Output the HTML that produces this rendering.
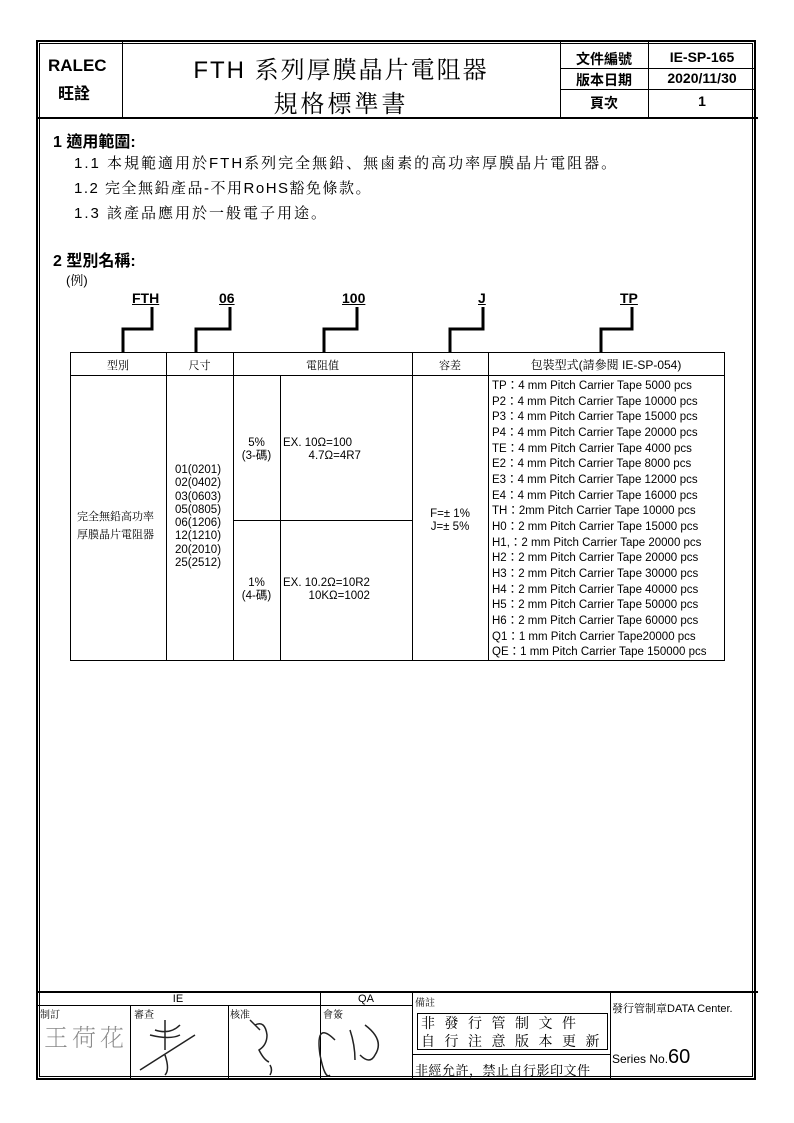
<!DOCTYPE html>
<html><head><meta charset="utf-8"><style>
body{margin:0;background:#fff;}
#p{position:relative;width:794px;height:1123px;overflow:hidden;font-family:"Liberation Sans","Noto Sans CJK TC",sans-serif;color:#000;}
.a{position:absolute;white-space:nowrap;}
.hl{position:absolute;background:#000;height:1px;}
.vl{position:absolute;background:#000;width:1px;}
.c{text-align:center;}
.s{font-family:"Liberation Sans","Noto Serif CJK SC","Noto Sans CJK TC",sans-serif;}
</style></head><body><div id="p">
<div class="a" style="left:36px;top:40px;width:720px;height:1040px;border:2px solid #000;box-sizing:border-box;"></div>
<div class="a" style="left:39px;top:43px;width:714px;height:1034px;border:1px solid #000;box-sizing:border-box;"></div>
<div class="hl" style="left:36px;top:117px;width:722px;height:2px"></div>
<div class="vl" style="left:122px;top:42px;height:76px"></div>
<div class="vl" style="left:560px;top:42px;height:76px"></div>
<div class="vl" style="left:648px;top:42px;height:76px"></div>
<div class="hl" style="left:560px;top:68px;width:196px"></div>
<div class="hl" style="left:560px;top:89px;width:196px"></div>
<div class="a" style="left:48px;top:56px;font-size:17px;font-weight:bold">RALEC</div>
<div class="a" style="left:58px;top:80px;font-size:16px;font-weight:bold">旺詮</div>
<div class="a c s" style="left:122px;top:50px;width:438px;font-size:24px;letter-spacing:2px">FTH 系列厚膜晶片電阻器</div>
<div class="a c s" style="left:122px;top:84px;width:438px;font-size:24px;letter-spacing:3px">規格標準書</div>
<div class="a c" style="left:560px;top:49px;width:88px;font-size:14px;font-weight:bold">文件編號</div>
<div class="a c" style="left:560px;top:70px;width:88px;font-size:14px;font-weight:bold">版本日期</div>
<div class="a c" style="left:560px;top:93px;width:88px;font-size:14px;font-weight:bold">頁次</div>
<div class="a c" style="left:648px;top:49px;width:108px;font-size:14px;font-weight:bold">IE-SP-165</div>
<div class="a c" style="left:648px;top:70px;width:108px;font-size:14px;font-weight:bold">2020/11/30</div>
<div class="a c" style="left:648px;top:93px;width:108px;font-size:14px;font-weight:bold">1</div>
<div class="a" style="left:53px;top:128px;font-size:16px;font-weight:bold">1 適用範圍:</div>
<div class="a s" style="left:74px;top:152px;font-size:15px;letter-spacing:2px">1.1 本規範適用於FTH系列完全無鉛、無鹵素的高功率厚膜晶片電阻器。</div>
<div class="a s" style="left:74px;top:177px;font-size:15px;letter-spacing:1.5px">1.2 完全無鉛產品-不用RoHS豁免條款。</div>
<div class="a s" style="left:74px;top:202px;font-size:15px;letter-spacing:2px">1.3 該產品應用於一般電子用途。</div>
<div class="a" style="left:53px;top:247px;font-size:16px;font-weight:bold">2 型別名稱:</div>
<div class="a s" style="left:66px;top:270px;font-size:13px">(例)</div>
<div class="a" style="left:132px;top:290px;font-size:14px;font-weight:bold;text-decoration:underline">FTH</div>
<div class="a" style="left:219px;top:290px;font-size:14px;font-weight:bold;text-decoration:underline">06</div>
<div class="a" style="left:342px;top:290px;font-size:14px;font-weight:bold;text-decoration:underline">100</div>
<div class="a" style="left:478px;top:290px;font-size:14px;font-weight:bold;text-decoration:underline">J</div>
<div class="a" style="left:620px;top:290px;font-size:14px;font-weight:bold;text-decoration:underline">TP</div>
<svg class="a" style="left:0;top:0" width="794" height="400">
<g fill="none" stroke="#000" stroke-width="3">
<polyline points="152,307 152,329 123,329 123,352"/>
<polyline points="230,307 230,329 196,329 196,352"/>
<polyline points="357,307 357,329 324,329 324,352"/>
<polyline points="483,307 483,329 450,329 450,352"/>
<polyline points="632,307 632,329 601,329 601,352"/>
</g></svg>
<div class="a" style="left:70px;top:352px;width:655px;height:309px;border:1px solid #000;box-sizing:border-box"></div>
<div class="hl" style="left:70px;top:375px;width:655px"></div>
<div class="vl" style="left:166px;top:352px;height:309px"></div>
<div class="vl" style="left:233px;top:352px;height:309px"></div>
<div class="vl" style="left:280px;top:375px;height:286px"></div>
<div class="vl" style="left:412px;top:352px;height:309px"></div>
<div class="vl" style="left:488px;top:352px;height:309px"></div>
<div class="hl" style="left:233px;top:520px;width:179px"></div>
<div class="a c s" style="left:70px;top:357px;width:96px;font-size:11px">型別</div>
<div class="a c s" style="left:166px;top:357px;width:67px;font-size:11px">尺寸</div>
<div class="a c s" style="left:233px;top:357px;width:179px;font-size:11px">電阻值</div>
<div class="a c s" style="left:412px;top:357px;width:76px;font-size:11px">容差</div>
<div class="a c s" style="left:488px;top:356px;width:236px;font-size:12px">包裝型式(請參閱 IE-SP-054)</div>
<div class="a s" style="left:77px;top:508px;font-size:11px;line-height:18px">完全無鉛高功率<br>厚膜晶片電阻器</div>
<div class="a" style="left:175px;top:464px;font-size:11.5px;line-height:13.3px">01(0201)<br>02(0402)<br>03(0603)<br>05(0805)<br>06(1206)<br>12(1210)<br>20(2010)<br>25(2512)</div>
<div class="a c" style="left:233px;top:437px;width:47px;font-size:11.5px;line-height:13px">5%<br>(3-碼)</div>
<div class="a" style="left:283px;top:437px;font-size:11.5px;line-height:13px">EX. 10Ω=100<br>&nbsp;&nbsp;&nbsp;&nbsp;&nbsp;&nbsp;&nbsp;&nbsp;4.7Ω=4R7</div>
<div class="a c" style="left:233px;top:577px;width:47px;font-size:11.5px;line-height:13px">1%<br>(4-碼)</div>
<div class="a" style="left:283px;top:577px;font-size:11.5px;line-height:13px">EX. 10.2Ω=10R2<br>&nbsp;&nbsp;&nbsp;&nbsp;&nbsp;&nbsp;&nbsp;&nbsp;10KΩ=1002</div>
<div class="a c" style="left:412px;top:508px;width:76px;font-size:11.5px;line-height:13px">F=± 1%<br>J=± 5%</div>
<div class="a" style="left:492px;top:379px;font-size:11.5px;line-height:15.65px">TP：4 mm Pitch Carrier Tape 5000 pcs<br>P2：4 mm Pitch Carrier Tape 10000 pcs<br>P3：4 mm Pitch Carrier Tape 15000 pcs<br>P4：4 mm Pitch Carrier Tape 20000 pcs<br>TE：4 mm Pitch Carrier Tape 4000 pcs<br>E2：4 mm Pitch Carrier Tape 8000 pcs<br>E3：4 mm Pitch Carrier Tape 12000 pcs<br>E4：4 mm Pitch Carrier Tape 16000 pcs<br>TH：2mm Pitch Carrier Tape 10000 pcs<br>H0：2 mm Pitch Carrier Tape 15000 pcs<br>H1,：2 mm Pitch Carrier Tape 20000 pcs<br>H2：2 mm Pitch Carrier Tape 20000 pcs<br>H3：2 mm Pitch Carrier Tape 30000 pcs<br>H4：2 mm Pitch Carrier Tape 40000 pcs<br>H5：2 mm Pitch Carrier Tape 50000 pcs<br>H6：2 mm Pitch Carrier Tape 60000 pcs<br>Q1：1 mm Pitch Carrier Tape20000 pcs<br>QE：1 mm Pitch Carrier Tape 150000 pcs</div>
<div class="hl" style="left:36px;top:991px;width:722px;height:2px"></div>
<div class="hl" style="left:36px;top:1005px;width:376px"></div>
<div class="vl" style="left:130px;top:1005px;height:75px"></div>
<div class="vl" style="left:228px;top:1005px;height:75px"></div>
<div class="vl" style="left:320px;top:992px;height:88px"></div>
<div class="vl" style="left:412px;top:992px;height:88px"></div>
<div class="vl" style="left:610px;top:992px;height:88px"></div>
<div class="a c" style="left:36px;top:993px;width:284px;font-size:11px">IE</div>
<div class="a c" style="left:320px;top:993px;width:92px;font-size:11px">QA</div>
<div class="a s" style="left:40px;top:1006px;font-size:10px">制訂</div>
<div class="a s" style="left:134px;top:1006px;font-size:10px">審查</div>
<div class="a s" style="left:230px;top:1006px;font-size:10px">核准</div>
<div class="a s" style="left:323px;top:1006px;font-size:10px">會簽</div>
<div class="a s" style="left:415px;top:994px;font-size:10px">備註</div>
<div class="a s" style="left:44px;top:1018px;font-size:24px;color:#888;font-weight:lighter;letter-spacing:4px">王荷花</div>
<svg class="a" style="left:130px;top:1005px" width="282" height="75"><g fill="none" stroke="#222" stroke-width="1.5">
<path d="M25 25 q15 5 25 -5 M35 15 l0 30 M20 30 q20 5 30 0 M10 65 l55 -35 M35 50 q5 15 0 20"/>
<path d="M120 15 l10 10 M125 20 q10 -5 12 10 q0 10 -8 15 q5 10 10 12 M140 60 q3 5 0 10"/>
<path d="M205 35 q-20 -20 -15 15 q5 25 10 20 M220 25 q5 15 5 30 M235 20 q20 15 10 30 q-5 10 -15 0"/>
</g></svg>
<div class="a" style="left:417px;top:1013px;width:191px;height:37px;border:1px solid #000;box-sizing:border-box"></div>
<div class="hl" style="left:412px;top:1054px;width:198px"></div>
<div class="a s" style="left:421px;top:1014px;font-size:14px;letter-spacing:9.5px;line-height:18px">非發行管制文件<br>自行注意版本更新</div>
<div class="a s" style="left:415px;top:1060px;font-size:13px;letter-spacing:0.5px">非經允許，禁止自行影印文件</div>
<div class="a s" style="left:612px;top:1000px;font-size:11px">發行管制章DATA Center.</div>
<div class="a" style="left:612px;top:1046px;font-size:12px">Series No.<span style="font-size:20px">60</span></div>
</div></body></html>
